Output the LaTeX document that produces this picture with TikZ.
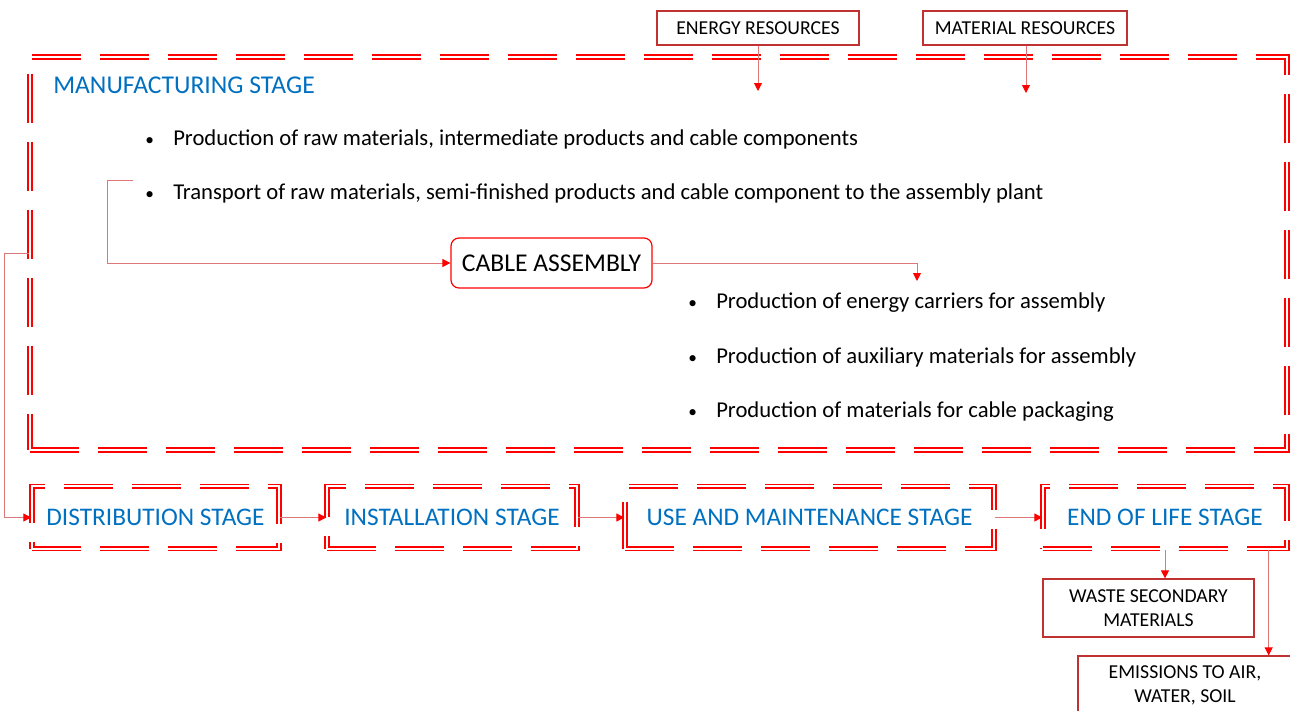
\documentclass[tikz,border=0pt]{standalone}
\usepackage{fontspec}
\setmainfont{Carlito}
\usetikzlibrary{arrows.meta,positioning}
\definecolor{stageblue}{RGB}{0,112,192}
\definecolor{boxred}{RGB}{192,50,50}
\definecolor{linkred}{RGB}{222,120,120}
\newcommand{\itembullet}{\makebox[21pt][l]{\fontsize{13}{13}\selectfont\textbullet}}

\begin{document}
\begin{tikzpicture}[x=0.75pt,y=-0.75pt,
   frame/.style={draw=red,double=white,double distance=1.8pt,line width=1pt,dash pattern=on 36.75pt off 14.25pt},
   stage/.style={frame,text=stageblue,font=\fontsize{19}{22}\selectfont,minimum height=47pt,inner sep=0pt},
   res/.style={draw=boxred,line width=0.9pt,font=\fontsize{14.8}{18}\selectfont,align=center,inner sep=0pt},
   item/.style={anchor=west,inner sep=0pt,font=\fontsize{17}{20}\selectfont},
   link/.style={draw=linkred,line width=0.7pt,-{Triangle[color=red,length=6pt,width=6pt]}}]
   \useasboundingbox (0,0) rectangle (1290,711);
   % manufacturing stage
   \node[frame,minimum width=942.75pt,minimum height=294.75pt] (manuf) at (658.5,253.5) {};
   \node[anchor=west,inner sep=0pt,text=stageblue,font=\fontsize{19.2}{22}\selectfont] (title) at (53,85) {MANUFACTURING STAGE};
   \node[item] (p1) at (145,139.5) {\itembullet Production of raw materials, intermediate products and cable components};
   \node[item] (p2) at (145,193.5) {\itembullet Transport of raw materials, semi-finished products and cable component to the assembly plant};
   \node[draw=red,rounded corners=6pt,line width=0.9pt,minimum width=150.75pt,minimum height=37.5pt,font=\fontsize{19.2}{22}\selectfont] (cable) at (551.5,263) {CABLE ASSEMBLY};
   \node[item] (p3) at (688,302.5) {\itembullet Production of energy carriers for assembly};
   \node[item] (p4) at (688,357.5) {\itembullet Production of auxiliary materials for assembly};
   \node[item] (p5) at (688,411.5) {\itembullet Production of materials for cable packaging};
   % resources
   \node[res,minimum width=151.5pt,minimum height=25.5pt] (energy) at (758,28) {ENERGY RESOURCES};
   \node[res,minimum width=153pt,minimum height=25.5pt] (material) at (1025,28) {MATERIAL RESOURCES};
   \coordinate (energyin) at (758,91);
   \coordinate (materialin) at (1026,93);
   \coordinate (transport) at (133,180);
   \coordinate (assemblyout) at (917,281);
   % other stages
   \node[stage,minimum width=185.25pt] (dist) at (155.5,517.5) {DISTRIBUTION STAGE};
   \node[stage,minimum width=187.5pt] (inst) at (452,517.5) {INSTALLATION STAGE};
   \node[stage,minimum width=276.75pt] (use) at (809.5,517.5) {USE AND MAINTENANCE STAGE};
   \node[stage,minimum width=183pt] (eol) at (1165,517.5) {END OF LIFE STAGE};
   \node[res,minimum width=158.25pt,minimum height=43.5pt] (waste) at (1148.5,608) {WASTE SECONDARY\\MATERIALS};
   \node[res,minimum width=160.5pt,minimum height=44.25pt] (emis) at (1185,685.5) {EMISSIONS TO AIR,\\WATER, SOIL};
   \path
   (energy) edge[link] (energyin)
   (material.south -| materialin) edge[link] (materialin)
   (dist) edge[link] (inst)
   (inst) edge[link] (use)
   (use) edge[link] (eol)
   (eol.south) edge[link] (eol.south |- waste.north);
   \draw[link] (transport) -- ++(-26,0) |- (cable.west);
   \draw[link] (cable.east) -| (assemblyout);
   \draw[link] (manuf.west) -- ++(-25,0) |- (dist.west);
   \draw[link] ([xshift=-14.25pt]eol.south east) coordinate (eolout) -- (eolout |- emis.north);
\end{tikzpicture}
\end{document}
